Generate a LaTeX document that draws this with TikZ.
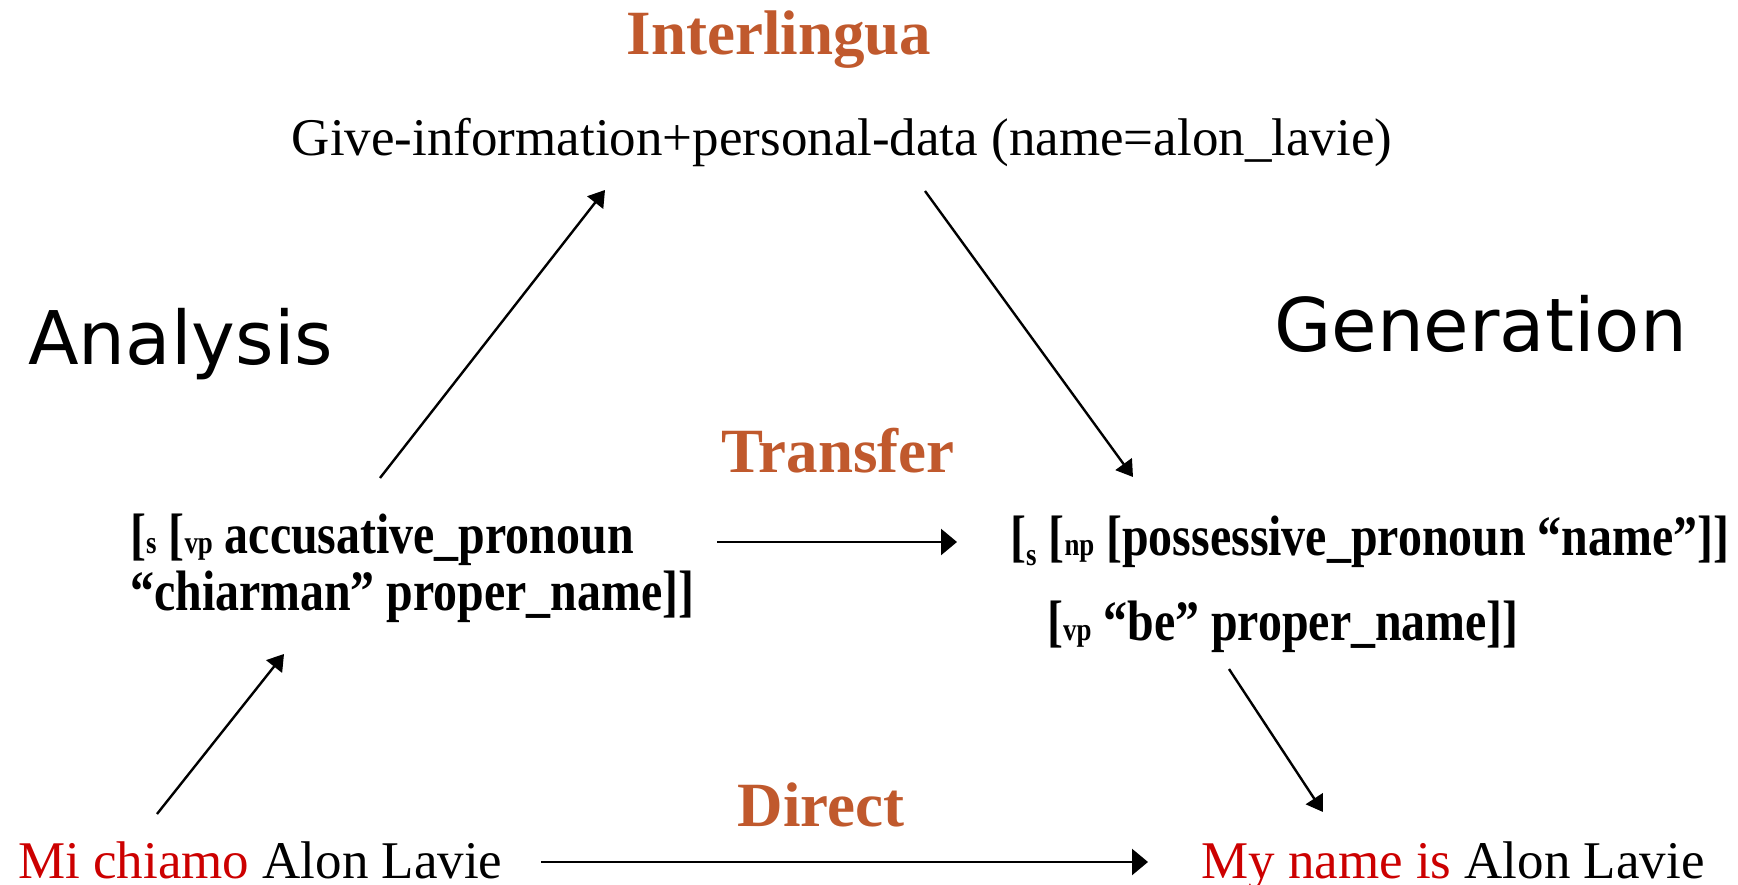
\documentclass[tikz,border=0pt]{standalone}
\usepackage{fontspec}
\setmainfont{Liberation Serif}
\newfontfamily\sansfnt{DejaVu Sans}
\newfontfamily\narrowfnt{Liberation Serif}[FakeStretch=0.84]
\usetikzlibrary{arrows.meta}
\definecolor{rust}{RGB}{192,89,45}
\definecolor{srcred}{RGB}{204,0,0}
\newcommand{\synsub}[1]{{\fontsize{32}{32}\selectfont #1}}

\begin{document}
\begin{tikzpicture}[x=1pt, y=-1pt,
  level/.style={font=\bfseries\fontsize{63}{70}\selectfont, text=rust, inner sep=0pt, anchor=base},
  stage/.style={font=\sansfnt\fontsize{74}{80}\selectfont, inner sep=0pt, anchor=base west},
  sent/.style={font=\fontsize{53}{60}\selectfont, inner sep=0pt, anchor=base west},
  syn/.style={font=\narrowfnt\bfseries\fontsize{57}{57}\selectfont, inner sep=0pt, anchor=base west},
  arr/.style={line width=2.4pt, -{Triangle[length=16pt,width=20pt]}},
  harr/.style={line width=2.4pt, -{Triangle[length=16pt,width=26pt]}}]
  \useasboundingbox (0,0) rectangle (1738,885);
  % ---------- top: interlingua ----------
  \node[level] (inter) at (779,55) {Interlingua};
  \node[sent, anchor=base] (ilrep) at (842,156) {Give-information+personal-data (name=alon\_lavie)};
  % ---------- side labels ----------
  \node[stage] (analysis) at (28,364) {Analysis};
  \node[stage] (generation) at (1274,352) {Generation};
  % ---------- middle: transfer ----------
  \node[level] (transfer) at (838,472) {Transfer};
  \node[syn] (lsyn1) at (130,553) {[\synsub{s} [\synsub{vp} accusative\_pronoun};
  \node[syn] (lsyn2) at (130,610) {“chiarman” proper\_name]]};
  \node[syn] (rsyn1) at (1010,555) {[\raisebox{-10pt}{\synsub{s}} [\synsub{np} [possessive\_pronoun “name”]]};
  \node[syn] (rsyn2) at (1047,640) {[\synsub{vp} “be” proper\_name]]};
  % ---------- bottom: direct ----------
  \node[level] (direct) at (821,826) {Direct};
  \node[sent] (src) at (18,878) {\textcolor{srcred}{Mi chiamo} Alon Lavie};
  \node[sent] (tgt) at (1201,878) {\textcolor{srcred}{My name is} Alon Lavie};
  % ---------- arrow ends ----------
  \coordinate (anaA) at (380,478);  \coordinate (anaB) at (605,190);
  \coordinate (genA) at (925,191);  \coordinate (genB) at (1133,477);
  \coordinate (trA) at (717,542);   \coordinate (trB) at (957,542);
  \coordinate (srcA) at (157,814);  \coordinate (srcB) at (284,654);
  \coordinate (tgtA) at (1229,669); \coordinate (tgtB) at (1323,812);
  \coordinate (drA) at (541,862);   \coordinate (drB) at (1148,862);
  % ---------- arrows ----------
  \draw[arr] (anaA) -- (anaB);
  \draw[arr] (genA) -- (genB);
  \draw[harr] (trA) -- (trB);
  \draw[arr] (srcA) -- (srcB);
  \draw[arr] (tgtA) -- (tgtB);
  \draw[harr] (drA) -- (drB);
\end{tikzpicture}
\end{document}
